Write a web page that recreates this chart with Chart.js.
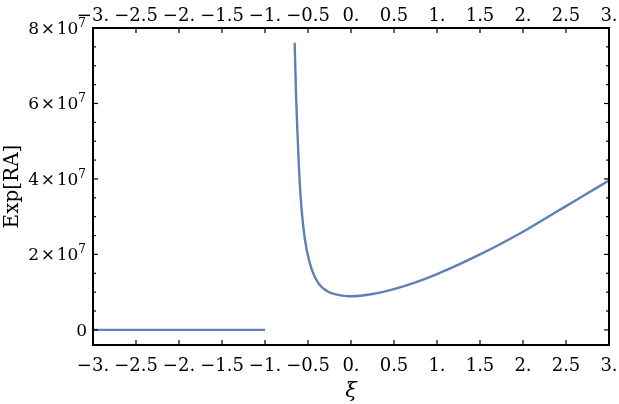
<!DOCTYPE html>
<html><head><meta charset="utf-8">
<script src="https://cdn.jsdelivr.net/npm/chart.js@4/dist/chart.umd.min.js"></script>
<style>html,body{margin:0;padding:0;background:#fff}</style>
</head><body>
<canvas id="c" width="619" height="404"></canvas>
<script>
// ---- data ----
const flatXi = [-3, -1];
const flatValues = [0, 0];
const branchXi = [-0.655, -0.64, -0.624, -0.605, -0.585, -0.555, -0.515, -0.455, -0.38, -0.265, -0.15, -0.05, 0, 0.25, 0.5, 0.75, 1.0, 1.25, 1.5, 1.75, 2.0, 2.25, 2.5, 2.75, 3.0];
const branchValues = [7.61e7, 6.3e7, 5.3e7, 4.3e7, 3.5e7, 2.74e7, 2.12e7, 1.59e7, 1.24e7, 1.01e7, 0.93e7, 0.895e7, 0.89e7, 0.95e7, 1.08e7, 1.26e7, 1.48e7, 1.73e7, 2.0e7, 2.29e7, 2.6e7, 2.94e7, 3.28e7, 3.62e7, 3.96e7];
const xTicks = [-3, -2.5, -2, -1.5, -1, -0.5, 0, 0.5, 1, 1.5, 2, 2.5, 3];
const xTickLabels = ['\u22123.', '\u22122.5', '\u22122.', '\u22121.5', '\u22121.', '\u22120.5', '0.', '0.5', '1.', '1.5', '2.', '2.5', '3.'];
const yMinorTicks = [0, 5e6, 1e7, 1.5e7, 2e7, 2.5e7, 3e7, 3.5e7, 4e7, 4.5e7, 5e7, 5.5e7, 6e7, 6.5e7, 7e7, 7.5e7, 8e7];
const yMajorTicks = [0, 2e7, 4e7, 6e7, 8e7];
const yMantissas = ['0', '2', '4', '6', '8'];
const yExponent = '7';

const lineColor = '#5E81B5';
const FONT = '"DejaVu Serif", "Liberation Serif", serif';

const setXTicks = s => { s.ticks = xTicks.map(v => ({ value: v })); };
const fmtX = (v) => { const i = xTicks.indexOf(v); return i >= 0 ? xTickLabels[i] : ''; };

const frameTicks = {
  id: 'frameTicks',
  afterDraw(chart) {
    const { ctx, chartArea: a, scales } = chart;
    ctx.save();
    ctx.strokeStyle = '#000';
    ctx.lineWidth = 1.2;
    const seg = (x1, y1, x2, y2) => { ctx.beginPath(); ctx.moveTo(x1, y1); ctx.lineTo(x2, y2); ctx.stroke(); };
    for (const v of xTicks) {
      const p = scales.x.getPixelForValue(v);
      seg(p, a.bottom, p, a.bottom - 5);
      seg(p, a.top, p, a.top + 5);
    }
    for (const v of yMinorTicks) {
      const p = scales.y.getPixelForValue(v);
      const L = yMajorTicks.includes(v) ? 5 : 3;
      seg(a.left, p, a.left + L, p);
      seg(a.right, p, a.right - L, p);
    }
    ctx.lineWidth = 2;
    ctx.strokeRect(a.left, a.top, a.right - a.left, a.bottom - a.top);

    // y tick labels (mantissa × 10 with raised exponent)
    ctx.fillStyle = '#000';
    ctx.textBaseline = 'alphabetic';
    const xr = a.left - 7;
    yMajorTicks.forEach((v, i) => {
      const p = scales.y.getPixelForValue(v);
      const base = p + 6;
      if (v === 0) {
        ctx.font = '17px ' + FONT;
        ctx.textAlign = 'right';
        ctx.fillText('0', xr + 1, base);
        return;
      }
      ctx.font = '12px ' + FONT;
      const ew = ctx.measureText(yExponent).width;
      ctx.textAlign = 'right';
      ctx.fillText(yExponent, xr, base - 7);
      ctx.font = '17px ' + FONT;
      ctx.fillText(yMantissas[i] + '\u200A\u00D7\u200A' + '10', xr - ew, base);
    });
    ctx.restore();
  }
};

new Chart(document.getElementById('c'), {
  type: 'scatter',
  data: {
    datasets: [
      { data: flatXi.map((x, i) => ({ x, y: flatValues[i] })), showLine: true, borderColor: lineColor, borderWidth: 2.4, pointRadius: 0 },
      { data: branchXi.map((x, i) => ({ x, y: branchValues[i] })), showLine: true, borderColor: lineColor, borderWidth: 2.4, pointRadius: 0, cubicInterpolationMode: 'monotone' }
    ]
  },
  options: {
    responsive: false,
    animation: false,
    layout: { padding: 0 },
    plugins: { legend: { display: false }, tooltip: { enabled: false } },
    scales: {
      x: {
        type: 'linear', position: 'bottom', min: -3, max: 3,
        afterBuildTicks: setXTicks,
        ticks: { callback: fmtX, color: '#000', font: { family: FONT, size: 18 }, padding: 11, maxRotation: 0, autoSkip: false },
        grid: { display: false, drawTicks: false },
        border: { display: false },
        title: { display: true, text: 'ξ', color: '#000', font: { family: FONT, size: 21, style: 'italic' }, padding: { top: 0, bottom: 0 } },
        afterFit(s) { s.height = 59; s.paddingLeft = 0; s.paddingRight = 0; }
      },
      x2: {
        type: 'linear', position: 'top', min: -3, max: 3,
        afterBuildTicks: setXTicks,
        ticks: { callback: fmtX, color: '#000', font: { family: FONT, size: 18 }, padding: 1, maxRotation: 0, autoSkip: false },
        grid: { display: false, drawTicks: false },
        border: { display: false },
        afterFit(s) { s.height = 28; s.paddingLeft = 0; s.paddingRight = 0; }
      },
      y: {
        type: 'linear', position: 'left', min: -4e6, max: 8e7,
        ticks: { display: false },
        grid: { display: false, drawTicks: false },
        border: { display: false },
        title: { display: true, text: 'Exp[RA]', color: '#000', font: { family: FONT, size: 20 }, padding: { top: 1, bottom: 0 } },
        afterFit(s) { s.width = 93; s.paddingTop = 0; s.paddingBottom = 0; }
      },
      y2: {
        type: 'linear', position: 'right', min: -4e6, max: 8e7,
        ticks: { display: false },
        grid: { display: false, drawTicks: false },
        border: { display: false },
        afterFit(s) { s.width = 10; s.paddingTop = 0; s.paddingBottom = 0; }
      }
    }
  },
  plugins: [frameTicks]
});
</script>
</body></html>
